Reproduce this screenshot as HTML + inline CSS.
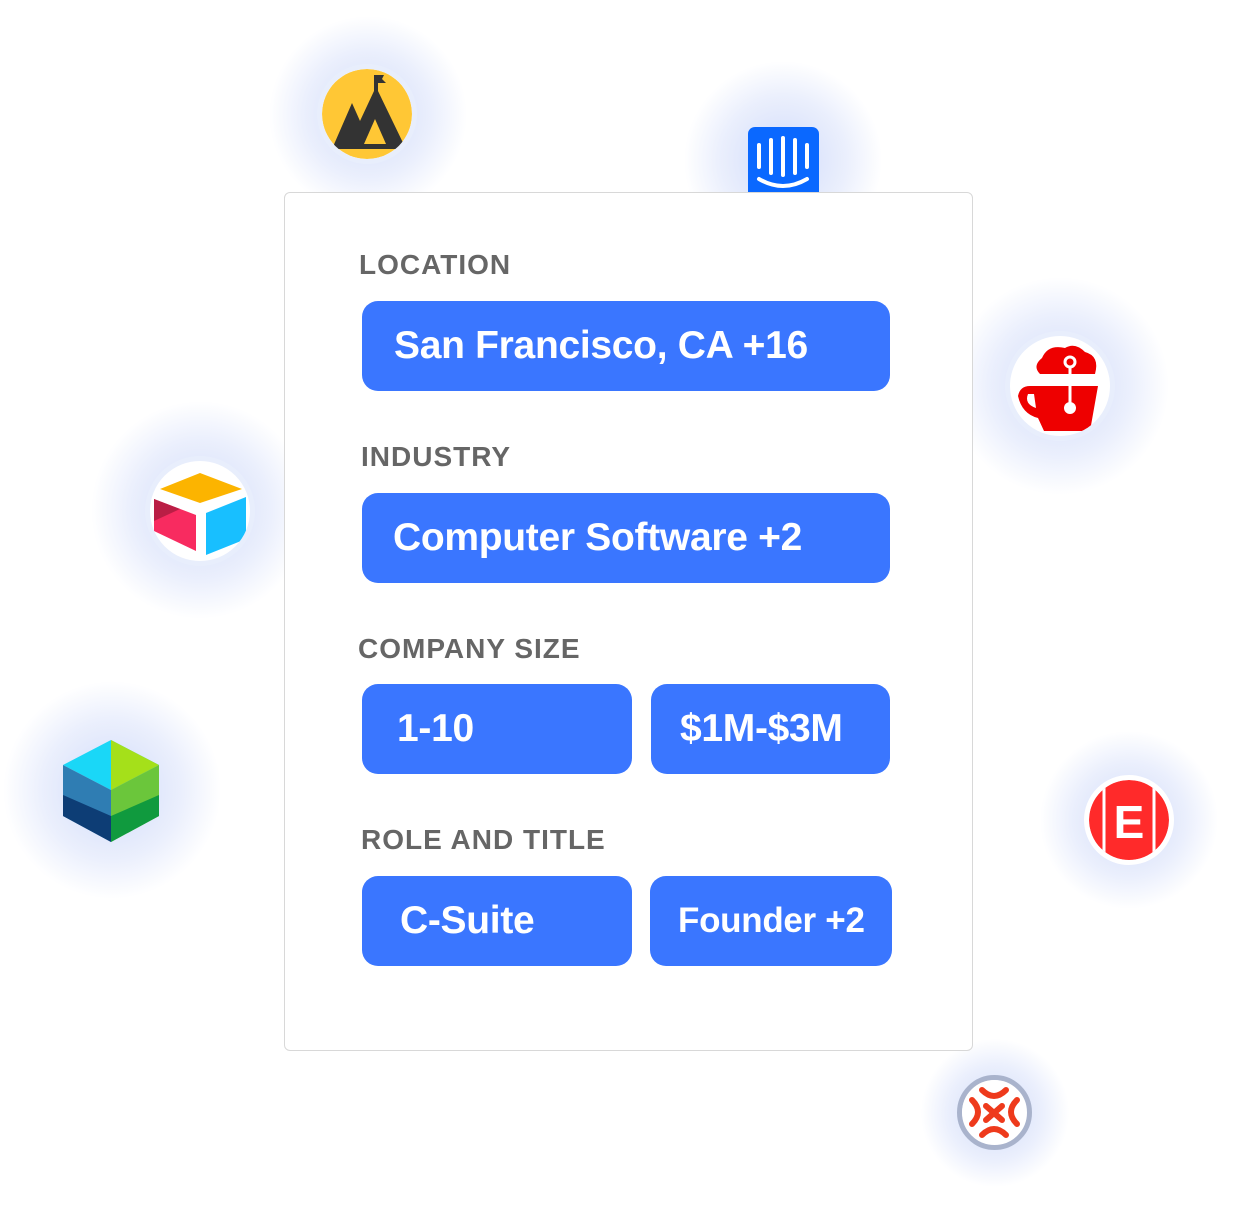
<!DOCTYPE html>
<html><head><style>
body{margin:0;width:1240px;height:1216px;background:#fff;position:relative;overflow:hidden;font-family:"Liberation Sans",sans-serif}
.glow{position:absolute;border-radius:50%;background:radial-gradient(circle,rgba(120,150,240,.35) 0%,rgba(120,150,240,.15) 45%,rgba(255,255,255,0) 70%)}
.card{position:absolute;left:284px;top:192px;width:687px;height:857px;border:1px solid #d8d8d8;border-radius:6px;background:#fff}
.lbl{position:absolute;color:#666;font-weight:bold;font-size:28px;letter-spacing:1px}
.btn{position:absolute;background:#3a76ff;border-radius:16px;color:#fff;font-size:39px;font-weight:bold;line-height:90px;height:90px;box-sizing:border-box;letter-spacing:-0.3px}
.ic{position:absolute;border-radius:50%;background:#fff;border:5px solid #e8eefc;box-sizing:border-box;overflow:hidden}
</style></head><body>
<div class="glow" style="left:268px;top:15px;width:200px;height:200px"></div>
<div class="glow" style="left:683px;top:60px;width:200px;height:200px"></div>
<div class="glow" style="left:950px;top:276px;width:220px;height:220px"></div>
<div class="glow" style="left:90px;top:400px;width:220px;height:220px"></div>
<div class="glow" style="left:2px;top:680px;width:220px;height:220px"></div>
<div class="glow" style="left:1039px;top:730px;width:180px;height:180px"></div>
<div class="glow" style="left:920px;top:1038px;width:150px;height:150px"></div>

<div class="ic" style="left:317px;top:64px;width:100px;height:100px">
<svg width="90" height="90" viewBox="0 0 90 90"><circle cx="45" cy="45" r="45" fill="#ffc735"/><path d="M10 80 L30 34 L38 52 L52 22 L52 6 L62 6 L60 10 L64 14 L56 14 L56 22 L84 80 Z" fill="#333"/><path d="M42 75 L53 50 L64 75Z" fill="#ffc735"/></svg></div>

<div style="position:absolute;left:748px;top:127px;width:71px;height:70px;background:#0a68ff;border-radius:7px 7px 0 0">
<svg width="71" height="65"><g stroke="#fff" stroke-width="4" stroke-linecap="round"><line x1="11" y1="18" x2="11" y2="40"/><line x1="23" y1="13" x2="23" y2="46"/><line x1="35" y1="11" x2="35" y2="48"/><line x1="47" y1="13" x2="47" y2="46"/><line x1="59" y1="18" x2="59" y2="40"/><path d="M11 52 Q35 66 59 52" fill="none"/></g></svg></div>

<div class="card">
<div class="lbl" style="left:74px;top:56px">LOCATION</div>
<div class="btn" style="left:77px;top:108px;width:528px;padding-left:32px">San Francisco, CA +16</div>
<div class="lbl" style="left:76px;top:248px">INDUSTRY</div>
<div class="btn" style="left:77px;top:300px;width:528px;padding-left:31px">Computer Software +2</div>
<div class="lbl" style="left:73px;top:440px">COMPANY SIZE</div>
<div class="btn" style="left:77px;top:491px;width:270px;padding-left:35px">1-10</div>
<div class="btn" style="left:366px;top:491px;width:239px;padding-left:29px">$1M-$3M</div>
<div class="lbl" style="left:76px;top:631px">ROLE AND TITLE</div>
<div class="btn" style="left:77px;top:683px;width:270px;padding-left:38px">C-Suite</div>
<div class="btn" style="left:365px;top:683px;width:242px;padding-left:28px;font-size:35px">Founder +2</div>
</div>

<div class="ic" style="left:1005px;top:331px;width:110px;height:110px">
<svg width="100" height="100" viewBox="0 0 100 100"><path d="M30 38 Q22 30 32 22 Q38 8 55 12 Q65 6 75 16 Q90 20 85 38 Z" fill="#e00"/><path d="M20 50 L88 50 L80 95 L34 95 L28 82 Q12 78 8 60 Q10 50 20 50Z" fill="#e00"/><path d="M18 58 L24 58 L26 72 Q14 68 18 58Z" fill="#fff"/><line x1="60" y1="26" x2="60" y2="70" stroke="#fff" stroke-width="3"/><circle cx="60" cy="26" r="5" fill="#e00" stroke="#fff" stroke-width="3"/><circle cx="60" cy="72" r="6" fill="#fff"/></svg></div>

<div class="ic" style="left:145px;top:456px;width:110px;height:110px">
<svg width="100" height="100" viewBox="0 0 100 100"><path d="M50 12 L92 28 L50 42 L10 28Z" fill="#fcb400"/><path d="M56 52 L96 36 L96 78 L56 94Z" fill="#18bfff"/><path d="M4 38 L46 54 L46 90 L4 70Z" fill="#f82b60"/><path d="M4 38 L30 48 L4 60Z" fill="#ba1e45"/></svg></div>

<svg style="position:absolute;left:63px;top:740px" width="97" height="102" viewBox="0 0 97 102"><polygon points="48,0 96,25 48,50 0,25" fill="#1ad7f7"/><polygon points="48,0 96,25 48,50" fill="#a5e01a"/><polygon points="0,25 48,50 48,102 0,76" fill="#2f7db3"/><polygon points="96,25 96,76 48,102 48,50" fill="#6bc63b"/><polygon points="0,55 48,76 48,102 0,76" fill="#0d3d75"/><polygon points="96,55 96,76 48,102 48,76" fill="#109a3e"/></svg>

<div class="ic" style="left:1084px;top:775px;width:90px;height:90px;border-color:#fff">
<svg width="80" height="80" viewBox="0 0 80 80"><circle cx="40" cy="40" r="40" fill="#ff2a2a"/><line x1="15" y1="0" x2="15" y2="80" stroke="#fff" stroke-width="3"/><line x1="65" y1="0" x2="65" y2="80" stroke="#fff" stroke-width="3"/><text x="40" y="58" font-size="46" font-weight="bold" fill="#fff" text-anchor="middle" font-family="Liberation Sans">E</text></svg></div>

<div class="ic" style="left:957px;top:1075px;width:75px;height:75px;border-color:#a9b3cc">
<svg width="65" height="65" viewBox="0 0 65 65"><circle cx="32" cy="32" r="32" fill="#fff"/><g stroke="#ee3a1c" stroke-width="6" fill="none" stroke-linecap="round"><path d="M20 10 Q32 22 44 10"/><path d="M20 55 Q32 43 44 55"/><path d="M10 20 Q22 32 10 44"/><path d="M55 20 Q43 32 55 44"/><path d="M24 26 L40 40"/><path d="M40 26 L24 40"/></g></svg></div>
</body></html>
